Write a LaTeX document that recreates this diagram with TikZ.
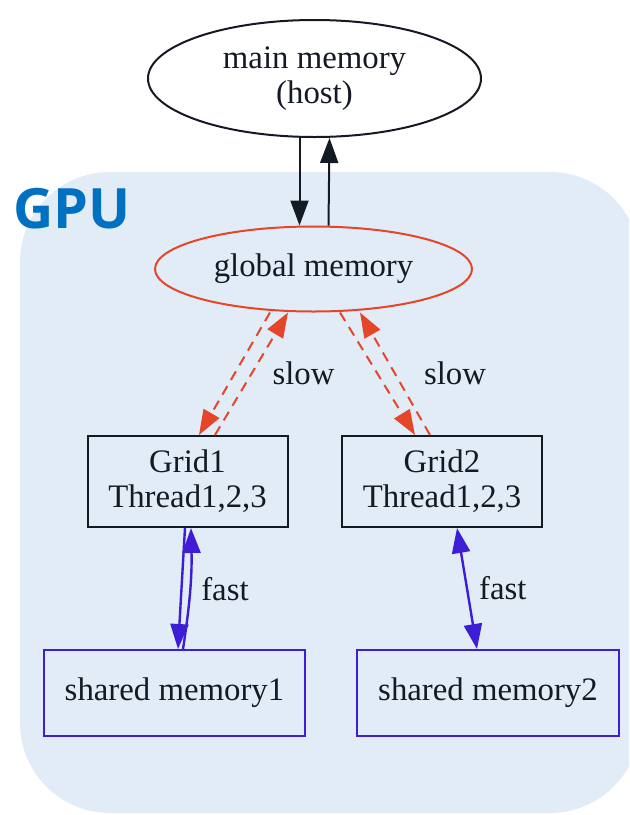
\documentclass[tikz,border=0pt]{standalone}
\usepackage{fontspec}
\setmainfont{Liberation Serif}
\newfontfamily\gpufont{Open Sans}
\usetikzlibrary{shapes,arrows.meta,calc}

\definecolor{gpubg}{HTML}{E2ECF7}
\definecolor{slowred}{HTML}{E5462A}
\definecolor{fastblue}{HTML}{3D1ED6}
\definecolor{inkdark}{HTML}{141A24}
\definecolor{gpublue}{HTML}{0070C0}

\begin{document}
\begin{tikzpicture}[x=0.5pt,y=-0.5pt,>={Triangle[length=12.5pt,width=9pt]},
  every node/.style={text=inkdark,font=\fontsize{16.4}{17.5}\selectfont,align=center},
  mem/.style={draw,ellipse,line width=1pt,inner sep=0pt},
  blk/.style={draw,rectangle,line width=1pt,inner sep=0pt},
  lbl/.style={inner sep=0pt},
  slow/.style={->,slowred,line width=1pt,dash pattern=on 5pt off 3.5pt},
  fast/.style={fastblue,line width=1.2pt}]
  \useasboundingbox (0,0) rectangle (629,815);
  \clip (0,0) rectangle (629,815);
  % GPU area
  \fill[gpubg, rounded corners=45pt] (20,172) rectangle (640,813);
  \node[anchor=base west, inner sep=0pt, text=gpublue, font=\gpufont\bfseries\fontsize{27.8}{30}\selectfont](gpu) at (13,228) {GPU};
  % Nodes
  \node[mem, draw=inkdark, minimum width=166.5pt, minimum height=58.5pt](main) at (314.5,78.5) {main memory\\(host)};
  \node[mem, draw=slowred, minimum width=158.5pt, minimum height=42.5pt](glob) at (313.5,269) {global memory};
  \node[blk, draw=inkdark, minimum width=100pt, minimum height=45.5pt](g1) at (187.5,481.5) {Grid1\\Thread1,2,3};
  \node[blk, draw=inkdark, minimum width=100pt, minimum height=45.5pt](g2) at (442,481.5) {Grid2\\Thread1,2,3};
  \node[blk, draw=fastblue, minimum width=130.5pt, minimum height=43pt](shm1) at (174.5,693) {shared memory1};
  \node[blk, draw=fastblue, minimum width=131pt, minimum height=43pt](shm2) at (488,693) {shared memory2};
  % Edges
  \draw[->, inkdark, line width=1pt] ($(main.south)+(-15,0)$) -- ($(glob.north)+(-14,0)$);
  \draw[->, inkdark, line width=1pt] ($(glob.north)+(15,0)$) -- ($(main.south)+(15,0)$);
  \draw[slow] ($(glob.south)+(-43.5,0)$) -- ($(g1.north)+(11.5,0)$);
  \draw[slow] ($(g1.north)+(27.5,0)$) -- node[lbl, right=10pt]{slow} ($(glob.south)+(-25.5,0)$);
  \draw[slow] ($(glob.south)+(26.5,0)$) -- ($(g2.north)+(-27,0)$);
  \draw[slow] ($(g2.north)+(-12,0)$) -- node[lbl, right=14pt]{slow} ($(glob.south)+(46.5,0)$);
  \draw[fast,->] ($(g1.south)+(-2.5,0)$) -- ($(shm1.north)+(3.5,0)$);
  \draw[fast,->] ($(shm1.north)+(8.5,0)$) to[bend right=5] node[lbl, right=5pt]{fast} ($(g1.south)+(3.5,0)$);
  \draw[fast,<->] ($(g2.south)+(15,0)$) -- node[lbl, right=5.5pt]{fast} ($(shm2.north)+(-11,0)$);
\end{tikzpicture}
\end{document}
